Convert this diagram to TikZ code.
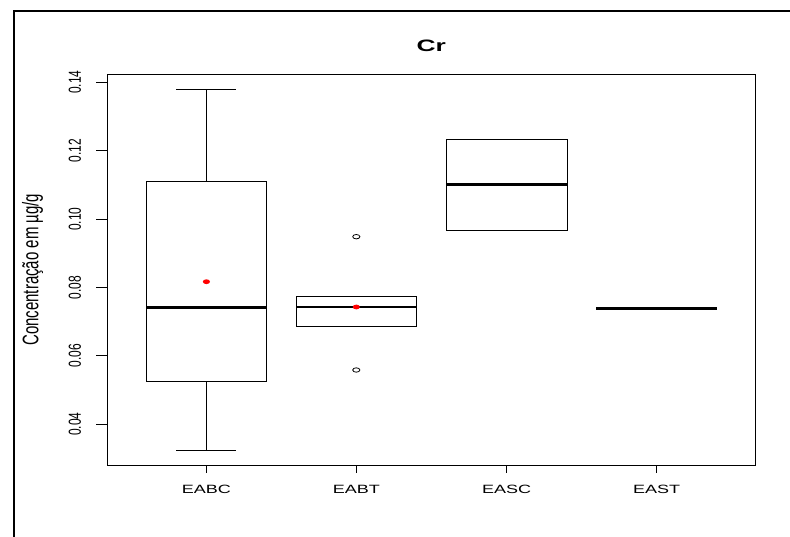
\documentclass[tikz,border=0pt]{standalone}
\usepackage{fontspec}
\setmainfont{Liberation Sans}
\begin{document}
\begin{tikzpicture}[x=1pt,y=-1pt,
  thin line/.style={line width=0.9pt, black},
  median line/.style={line width=2.5pt, black},
  ticklab/.style={inner sep=0pt, font=\fontsize{12}{12}\selectfont},
  catlab/.style={inner sep=0pt, anchor=base, font=\fontsize{12}{12}\selectfont},
  outlier/.style={draw=black, line width=0.8pt},
  meanpt/.style={fill=red}]
\useasboundingbox (0,0) rectangle (790,537);
\fill[white] (0,0) rectangle (790,537);
% outer frame
\draw[line width=2pt] (14,537) -- (14,11) -- (790,11);
% plot box
\draw[thin line] (107,74) rectangle (755.7,465.3);
% title
\node[inner sep=0pt, font=\bfseries\fontsize{16.5}{16.5}\selectfont] (title) at (431.3,45.5) {\scalebox{1.6}[1]{Cr}};
% y label
\node[inner sep=0pt, font=\fontsize{15}{15}\selectfont] (ylab) at (32.5,269.7) {\rotatebox{90}{\scalebox{1}[1.5]{Concentração em µg/g}}};
% y ticks
\foreach \v/\y in {0.04/424.3, 0.06/355.9, 0.08/287.5, 0.10/219.1, 0.12/150.7, 0.14/82.3}{
  \draw[thin line] (96,\y) -- (107,\y);
  \node[ticklab] at (75,\y) {\rotatebox{90}{\scalebox{1}[1.45]{\v}}};
}
% x ticks and labels
\foreach \n/\x in {EABC/206.4, EABT/356.3, EASC/506.7, EAST/656.5}{
  \draw[thin line] (\x,465.3) -- (\x,472.7);
  \node[catlab] at (\x,493.3) {\scalebox{1.5}[1]{\n}};
}
% EABC
\draw[thin line] (146.7,181.3) rectangle (266,381.3);
\draw[thin line] (206.4,181.3) -- (206.4,89) (176,89) -- (236.3,89);
\draw[thin line] (206.4,381.3) -- (206.4,450.3) (176,450.3) -- (236.3,450.3);
\draw[median line] (146.7,307.3) -- (266,307.3);
\fill[meanpt] (206.4,281.7) ellipse [x radius=3.6pt, y radius=2.4pt];
% EABT
\draw[thin line] (296.7,296.7) rectangle (416,326.3);
\draw[median line] (296.7,307) -- (416,307);
\draw[outlier] (356.3,236.7) ellipse [x radius=3.6pt, y radius=2.2pt];
\draw[outlier] (356.3,370) ellipse [x radius=3.6pt, y radius=2.2pt];
\fill[meanpt] (356.3,307) ellipse [x radius=3.6pt, y radius=2.4pt];
% EASC
\draw[thin line] (446.3,139.3) rectangle (567,230.3);
\draw[median line] (446.3,184.7) -- (567,184.7);
% EAST
\draw[median line] (596,308.7) -- (717,308.7);
\end{tikzpicture}
\end{document}
